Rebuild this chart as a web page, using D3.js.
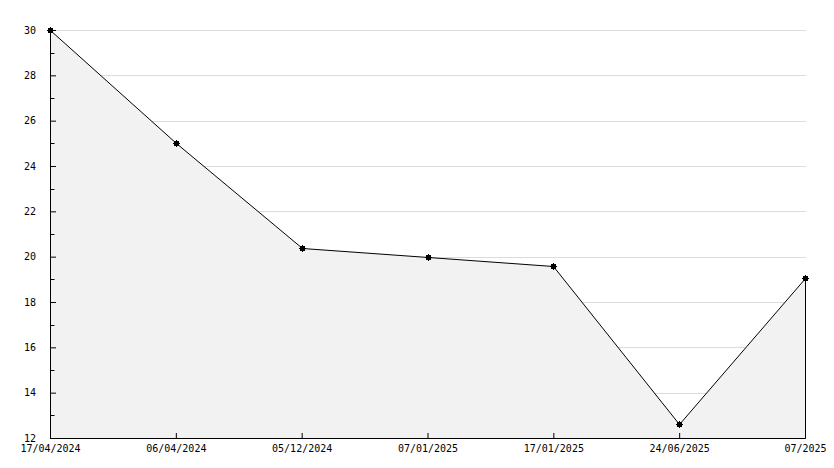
<!DOCTYPE html>
<html><head><meta charset="utf-8">
<script src="https://cdn.jsdelivr.net/npm/d3@7"></script>
<style>body{margin:0;background:#fff}svg{display:block}</style>
</head><body><svg id="c" width="834" height="468"></svg>
<script>
const categories = ["17/04/2024","06/04/2024","05/12/2024","07/01/2025","17/01/2025","24/06/2025","07/2025"];
const values = [30, 25, 20.4, 20, 19.6, 12.6, 19.05];
const yTicks = [12,14,16,18,20,22,24,26,28,30];
const yMinor = [13,15,17,19,21,23,25,27,29];

const svg = d3.select("#c");
const m = {l:50, r:805, t:30, b:438};
const x = d3.scalePoint().domain(categories).range([m.l, m.r]);
const y = d3.scaleLinear().domain([12,30]).range([m.b, m.t]);
const font = "'DejaVu Sans Mono', monospace";
const px = v => Math.round(v) + 0.5;

// gridlines
svg.append("g").selectAll("line").data(yTicks.filter(d=>d>12)).join("line")
  .attr("x1", m.l).attr("x2", m.r+1).attr("y1", d=>px(y(d))).attr("y2", d=>px(y(d)))
  .attr("stroke", "#dcdcdc").attr("stroke-width", 1);

const data = categories.map((c,i)=>({c, v:values[i]}));
// area
svg.append("path").datum(data)
  .attr("d", d3.area().x(d=>px(x(d.c))).y0(m.b+0.5).y1(d=>px(y(d.v))))
  .attr("fill", "#f2f2f2").attr("stroke", "none");
// right edge line
svg.append("line").attr("x1", px(x(categories[6]))).attr("x2", px(x(categories[6])))
  .attr("y1", px(y(values[6]))).attr("y2", m.b+0.5).attr("stroke", "#000");
// line
svg.append("path").datum(data)
  .attr("d", d3.line().x(d=>px(x(d.c))).y(d=>px(y(d.v))))
  .attr("fill", "none").attr("stroke", "#000").attr("stroke-width", 1);
// markers
svg.append("g").selectAll("rect").data(data).join("rect")
  .attr("x", d=>Math.round(x(d.c))-2).attr("y", d=>Math.round(y(d.v))-2)
  .attr("width", 5).attr("height", 5).attr("fill", "#000");
svg.append("g").selectAll("path").data(data).join("path")
  .attr("d", d=>{const cx=px(x(d.c)), cy=px(y(d.v)); return `M${cx-3.5},${cy}H${cx+3.5}M${cx},${cy-3.5}V${cy+3.5}`;})
  .attr("stroke", "#000");

// y axis
const ya = svg.append("g").attr("transform", `translate(${m.l},0)`)
  .call(d3.axisLeft(y).tickValues(yTicks).tickSize(-6).tickPadding(14).tickFormat(d3.format("d")));
ya.select(".domain").attr("stroke", "#000");
ya.selectAll("text").attr("font-family", font).attr("font-size", 10).attr("fill", "#000");
ya.selectAll(".tick line").attr("stroke", "#000");
svg.append("g").selectAll("line").data(yMinor).join("line")
  .attr("x1", m.l).attr("x2", m.l+4.5).attr("y1", d=>px(y(d))).attr("y2", d=>px(y(d)))
  .attr("stroke", "#000");

// x axis
const xa = svg.append("g").attr("transform", `translate(0,${m.b})`)
  .call(d3.axisBottom(x).tickSize(-5).tickPadding(7));
xa.select(".domain").attr("stroke", "#000");
xa.selectAll("text").attr("font-family", font).attr("font-size", 10).attr("fill", "#000");
xa.selectAll(".tick line").attr("stroke", "#000");
</script></body></html>
